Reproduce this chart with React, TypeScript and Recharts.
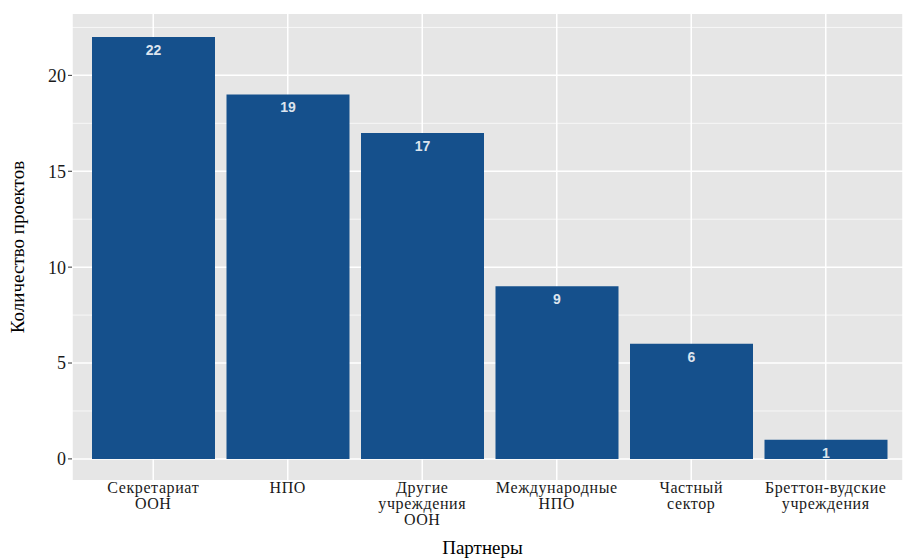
import { BarChart, Bar, XAxis, YAxis, CartesianGrid, LabelList } from 'recharts';

const partners = [
  'Секретариат\nООН',
  'НПО',
  'Другие\nучреждения\nООН',
  'Международные\nНПО',
  'Частный\nсектор',
  'Бреттон-вудские\nучреждения',
];
const projectCounts = [22, 19, 17, 9, 6, 1];
const majorTicks = [0, 5, 10, 15, 20];
const minorTicks = [2.5, 7.5, 12.5, 17.5, 22.5];

const data = partners.map((name, i) => ({ name, value: projectCounts[i] }));

const SERIF = '"Liberation Serif", "Times New Roman", serif';

// multi-line category label, ggplot style
function PartnerTick({ x, y, payload }: { x?: number; y?: number; payload?: { value: string } }) {
  const lines = String(payload?.value ?? '').split('\n');
  return (
    <text
      x={x}
      y={y}
      textAnchor="middle"
      fontFamily={SERIF}
      fontSize={16}
      letterSpacing={0.6}
      fill="#1a1a1a"
    >
      {lines.map((line, i) => (
        <tspan key={i} x={x} dy={i === 0 ? 5 : 16}>
          {line}
        </tspan>
      ))}
    </text>
  );
}

export default function App() {
  return (
    <div style={{ position: 'absolute', left: 0, top: 0, background: '#fff' }}>
      <BarChart
        width={903}
        height={560}
        data={data}
        margin={{ top: 14, right: 0, left: 0, bottom: 0 }}
        barCategoryGap={6}
      >
        <CartesianGrid
          fill="#E6E6E6"
          stroke="#FFFFFF"
          strokeWidth={0.7}
          vertical={false}
          horizontalValues={minorTicks}
        />
        <CartesianGrid stroke="#FFFFFF" strokeWidth={1.5} horizontalValues={majorTicks} />
        <XAxis
          dataKey="name"
          type="category"
          height={80}
          padding={{ left: 14, right: 10 }}
          axisLine={false}
          tickLine={false}
          tick={<PartnerTick />}
          interval={0}
          label={{
            content: ({ viewBox }: any) => (
              <text
                x={viewBox.x + viewBox.width / 2 - 5}
                y={viewBox.y + 74}
                textAnchor="middle"
                fontFamily={SERIF}
                fontSize={19}
                fill="#000"
              >
                Партнеры
              </text>
            ),
          }}
        />
        <YAxis
          type="number"
          width={72}
          domain={[-1.1, 23.2]}
          ticks={majorTicks}
          allowDataOverflow
          axisLine={false}
          tickSize={4}
          tickMargin={2}
          tickLine={{ stroke: '#333333' }}
          tick={{ fontFamily: SERIF, fontSize: 18, fill: '#1a1a1a' }}
          label={{
            content: ({ viewBox }: any) => (
              <text
                x={viewBox.x + 24}
                y={viewBox.y + viewBox.height / 2}
                transform={`rotate(-90, ${viewBox.x + 24}, ${viewBox.y + viewBox.height / 2})`}
                textAnchor="middle"
                fontFamily={SERIF}
                fontSize={19}
                fill="#000"
              >
                Количество проектов
              </text>
            ),
          }}
        />
        <Bar dataKey="value" fill="#15508C" isAnimationActive={false}>
          <LabelList
            dataKey="value"
            position="insideTop"
            offset={8}
            fill="#DCE4EE"
            fontFamily='"Liberation Sans", Arial, sans-serif'
            fontWeight="bold"
            fontSize={14}
          />
        </Bar>
      </BarChart>
    </div>
  );
}
